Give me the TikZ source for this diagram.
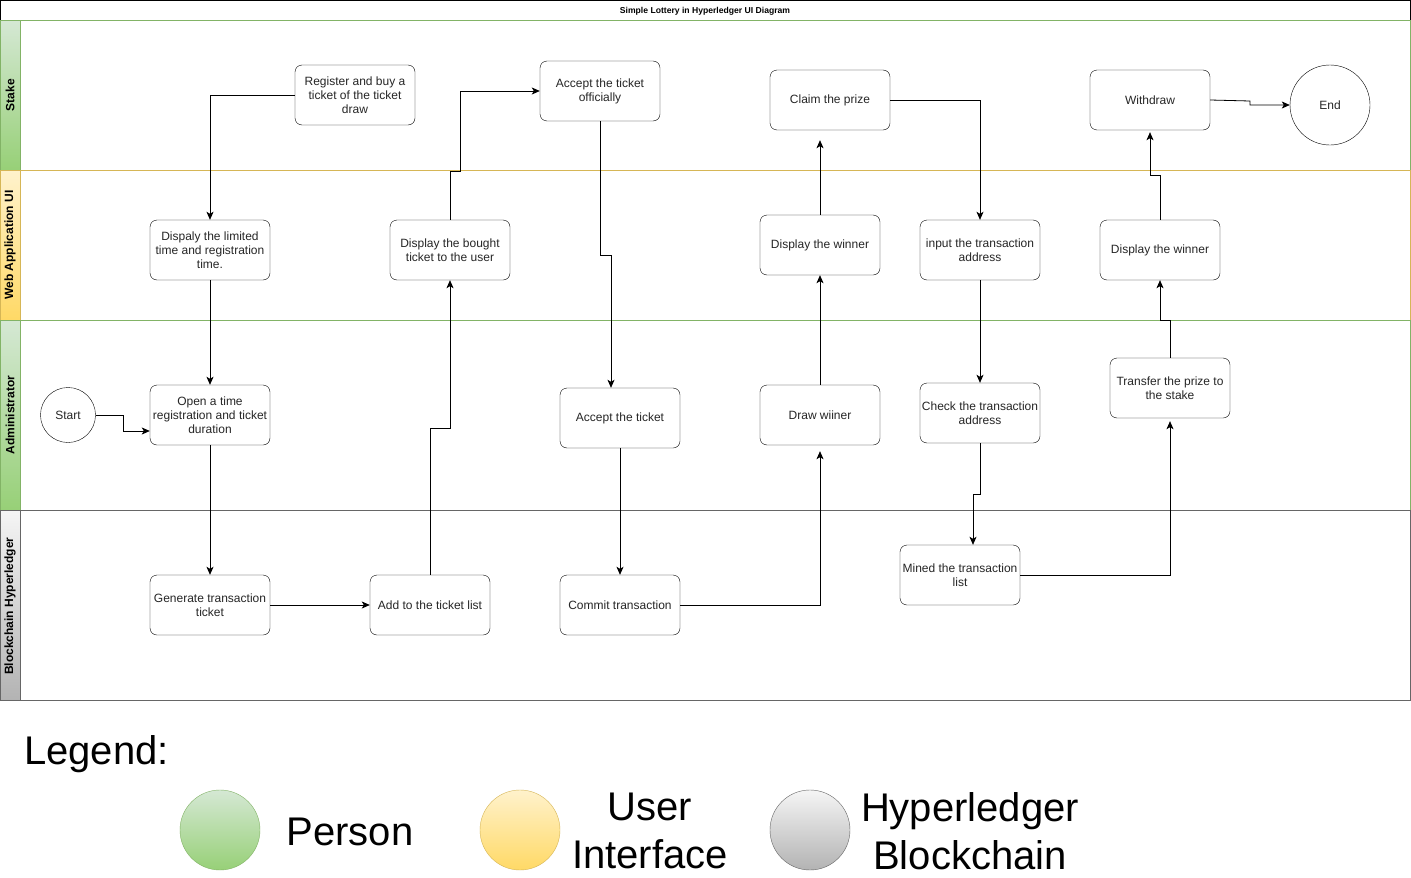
\documentclass[tikz,border=0pt]{standalone}
\usepackage{fontspec}
\setmainfont{Liberation Sans}
\usetikzlibrary{arrows.meta,calc}
\definecolor{gborder}{HTML}{82B366}
\definecolor{gtop}{HTML}{D5E8D4}
\definecolor{gbot}{HTML}{97D077}
\definecolor{yborder}{HTML}{D6B656}
\definecolor{ytop}{HTML}{FFF2CC}
\definecolor{ybot}{HTML}{FFD966}
\definecolor{kborder}{HTML}{666666}
\definecolor{ktop}{HTML}{F5F5F5}
\definecolor{kbot}{HTML}{B3B3B3}
\begin{document}
\begin{tikzpicture}[x=1pt,y=-1pt,
  box/.style={draw=black, rounded corners=7pt, minimum width=120pt, minimum height=60pt, align=center, inner sep=1pt, font=\fontsize{12}{14}\selectfont, text=black!85},
  term/.style={draw=black, circle, inner sep=0pt, font=\fontsize{12}{14}\selectfont, text=black!85},
  conn/.style={draw=black, line width=0.8pt, -{Stealth[length=8pt,width=7pt,inset=2pt]}},
  lanelbl/.style={rotate=90, font=\bfseries\fontsize{12}{14}\selectfont},
  legtext/.style={font=\fontsize{40}{48}\selectfont, align=center}
]
\useasboundingbox (0,0) rectangle (1411,878);
\fill[white] (0,0) rectangle (1411,878);
% title
\draw[black, line width=0.8pt] (0.5,0.5) rectangle (1410,20);
\node[font=\bfseries\fontsize{8.6}{10}\selectfont] (title) at (705,11) {Simple Lottery in Hyperledger UI Diagram};
% lane headers
\shade[top color=gtop, bottom color=gbot] (0,20) rectangle (20,170);
\shade[top color=ytop, bottom color=ybot] (0,170) rectangle (20,320);
\shade[top color=gtop, bottom color=gbot] (0,320) rectangle (20,510);
\shade[top color=ktop, bottom color=kbot] (0,510) rectangle (20,700);
% lane borders
\draw[gborder, line width=0.8pt] (0.5,20) rectangle (1410,170);
\draw[gborder, line width=0.8pt] (20,20) -- (20,170);
\draw[yborder, line width=0.8pt] (0.5,170) rectangle (1410,320);
\draw[yborder, line width=0.8pt] (20,170) -- (20,320);
\draw[gborder, line width=0.8pt] (0.5,320) rectangle (1410,510);
\draw[gborder, line width=0.8pt] (20,320) -- (20,510);
\draw[kborder, line width=0.8pt] (0.5,510) rectangle (1410,700);
\draw[kborder, line width=0.8pt] (20,510) -- (20,700);
\node[lanelbl] (l1) at (10,95) {Stake};
\node[lanelbl] (l2) at (10,245) {Web Application UI};
\node[lanelbl] (l3) at (10,415) {Administrator};
\node[lanelbl] (l4) at (10,606) {Blockchain Hyperledger};
% nodes
\node[box] (reg) at (355,95) {Register and buy a\\ticket of the ticket\\draw};
\node[box] (acco) at (600,91) {Accept the ticket\\officially};
\node[box] (claim) at (830,100) {Claim the prize};
\node[box] (withdraw) at (1150,100) {Withdraw};
\node[term, minimum size=80pt] (end) at (1330,105) {End};
\node[box] (disp) at (210,250) {Dispaly the limited\\time and registration\\time.};
\node[box] (bought) at (450,250) {Display the bought\\ticket to the user};
\node[box] (win1) at (820,245) {Display the winner};
\node[box] (input) at (980,250) {input the transaction\\address};
\node[box] (win2) at (1160,250) {Display the winner};
\node[term, minimum size=55pt] (start) at (68,415) {Start};
\node[box] (open) at (210,415) {Open a time\\registration and ticket\\duration};
\node[box] (acc) at (620,418) {Accept the ticket};
\node[box] (draw) at (820,415) {Draw wiiner};
\node[box] (check) at (980,413) {Check the transaction\\address};
\node[box] (transfer) at (1170,388) {Transfer the prize to\\the stake};
\node[box] (gen) at (210,605) {Generate transaction\\ticket};
\node[box] (add) at (430,605) {Add to the ticket list};
\node[box] (commit) at (620,605) {Commit transaction};
\node[box] (mined) at (960,575) {Mined the transaction\\list};
% connectors
\draw[conn] (reg.west) -| (disp.north);
\draw[conn] (disp.south) -- (open.north);
\draw[conn] (start.east) -- (123,415) -- (123,431) -- ($(open.west)+(0,16)$);
\draw[conn] (open.south) -- (gen.north);
\draw[conn] (gen.east) -- (add.west);
\draw[conn] (add.north) -- (430,428) -- (450,428) -- (bought.south);
\draw[conn] (bought.north) -- (450,171) -- (460,171) -- (460,91) -- (acco.west);
\draw[conn] (acco.south) -- (600,255) -- (611,255) -- ($(acc.north)+(-9,0)$);
\draw[conn] (acc.south) -- (commit.north);
\draw[conn] (commit.east) -- (820,605) -- ($(draw.south)+(0,6)$);
\draw[conn] (draw.north) -- (win1.south);
\draw[conn] (win1.north) -- ($(win1.north |- claim.south)+(0,10)$);
\draw[conn] (claim.east) -| (input.north);
\draw[conn] (input.south) -- (check.north);
\draw[conn] (check.south) -- (980,494) -- (973,494) -- ($(mined.north)+(13,0)$);
\draw[conn] (mined.east) -- (1170,575) -- ($(transfer.south)+(0,3)$);
\draw[conn] (transfer.north) -- (1170,320) -- (1160,320) -- (win2.south);
\draw[conn] (win2.north) -- (1160,175) -- (1150,175) -- ($(withdraw.south)+(0,2)$);
\draw[conn] (withdraw.east) -- (1250,101) -- (1250,105) -- (end.west);
% legend
\node[font=\fontsize{40}{48}\selectfont, anchor=base west, inner sep=0pt] (legend) at (24,764) {Legend:};
\shade[top color=gtop, bottom color=gbot, draw=gborder] (220,830) circle (40);
\node[legtext, anchor=base] (person) at (350,845) {Person};
\shade[top color=ytop, bottom color=ybot, draw=yborder] (520,830) circle (40);
\node[legtext] (ui) at (650,831) {User\\Interface};
\shade[top color=ktop, bottom color=kbot, draw=kborder] (810,830) circle (40);
\node[legtext] (hb) at (970,831) {Hyperledger\\Blockchain};
\end{tikzpicture}
\end{document}
